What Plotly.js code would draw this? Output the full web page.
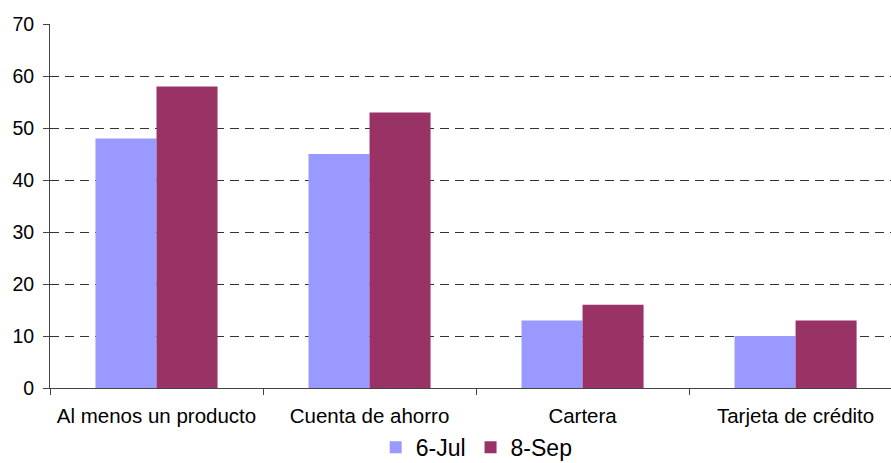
<!DOCTYPE html>
<html>
<head>
<meta charset="utf-8">
<script src="https://cdn.plot.ly/plotly-3.0.1.min.js"></script>
<style>html,body{margin:0;padding:0;background:#fff;}#chart{width:891px;height:463px;}</style>
</head>
<body>
<div id="chart"></div>
<script>
const categories = ["Al menos un producto", "Cuenta de ahorro", "Cartera", "Tarjeta de crédito"];
const seriesNames = ["6-Jul", "8-Sep"];
const jul6 = [48, 45, 13, 10];
const sep8 = [58, 53, 16, 13];
const yTicks = [0, 10, 20, 30, 40, 50, 60, 70];

const font = {family: "Liberation Sans, Arial, sans-serif", color: "#000"};

const data = [
  {type: "bar", name: seriesNames[0], x: categories, y: jul6, marker: {color: "#9999FF"}},
  {type: "bar", name: seriesNames[1], x: categories, y: sep8, marker: {color: "#993366"}}
];

const layout = {
  width: 891, height: 463,
  margin: {l: 50, r: 0, t: 24, b: 75, pad: 0, autoexpand: false},
  paper_bgcolor: "#fff", plot_bgcolor: "#fff",
  font: Object.assign({size: 19}, font),
  barmode: "group",
  bargap: 0.427,
  bargroupgap: 0,
  showlegend: true,
  legend: {
    orientation: "h", xref: "container", x: 0.535, xanchor: "center",
    yref: "container", y: 0.034, yanchor: "middle",
    font: Object.assign({size: 23}, font),
    itemwidth: 30, tracegroupgap: 0
  },
  xaxis: {
    type: "category",
    range: [-0.5, 3.448],
    showgrid: false,
    showline: true, linecolor: "#444", linewidth: 1,
    ticks: "outside", tickson: "boundaries", ticklen: 6, tickcolor: "#444",
    tickangle: 0,
    ticklabelstandoff: 9,
    tickfont: Object.assign({size: 20.5}, font),
    automargin: false,
    fixedrange: true
  },
  yaxis: {
    range: [0, 70],
    tickvals: yTicks,
    showgrid: true, gridcolor: "#333", gridwidth: 1, griddash: "9px,6px",
    showline: true, linecolor: "#444", linewidth: 1,
    ticks: "outside", ticklen: 6, tickcolor: "#444",
    ticklabelstandoff: 5,
    tickfont: Object.assign({size: 19.5}, font),
    zeroline: false,
    automargin: false,
    fixedrange: true
  }
};

Plotly.newPlot("chart", data, layout, {displayModeBar: false, staticPlot: true});
</script>
</body>
</html>
